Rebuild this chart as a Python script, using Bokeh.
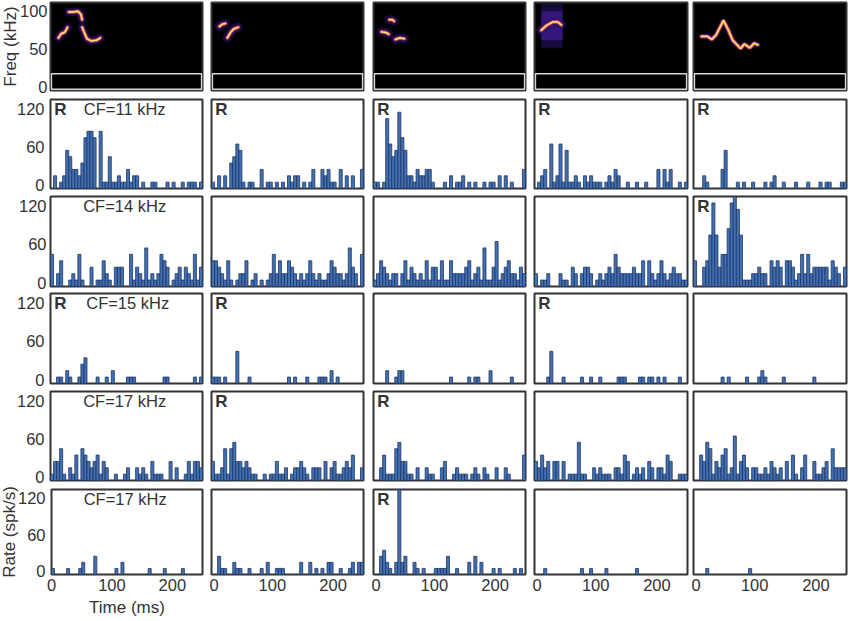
from bokeh.embed import file_html
from bokeh.resources import INLINE
from bokeh.plotting import figure
from bokeh.layouts import column, row
from bokeh.models import FixedTicker, Label, LinearAxis, Range1d

# spikes in each 5 ms bin, 0-250 ms; one spike in a bin is 10 spk/s
BIN_MS = 5
SPK_TO_RATE = 10

r1c0 = [0,2,0,1,2,6,5,3,3,2, 4,8,9,9,8,0,9,1,1,5, 1,1,2,1,1,3,1,2,2,0, 1,0,0,1,1,0,0,0,1,0, 1,0,0,1,0,1,1,1,0,1]
r1c1 = [1,0,2,0,2,0,4,5,7,6, 1,0,1,1,0,0,3,0,1,1, 0,1,0,1,0,2,1,2,2,0, 1,0,1,3,0,0,3,2,3,1, 1,0,3,0,2,0,2,0,0,3]
r1c2 = [1,1,0,1,11,7,5,6,12,8, 6,2,2,1,3,2,2,3,3,1, 0,0,0,1,0,2,0,1,1,2, 0,1,0,1,0,0,1,0,1,1, 0,2,0,2,0,1,0,0,0,3]
r1c3 = [0,1,2,3,0,7,1,2,7,1, 6,1,1,2,1,0,2,1,2,1, 1,1,0,1,2,1,3,2,0,0, 1,0,0,1,0,0,1,0,0,0, 3,0,3,1,3,0,0,1,0,1]
r1c4 = [0,0,0,2,1,0,0,0,0,3, 6,0,0,0,1,0,1,0,0,1, 0,0,0,1,0,1,2,0,0,1, 0,0,0,1,0,0,0,1,0,0, 0,1,0,1,1,0,0,0,1,1]

r2c0 = [5,0,2,4,0,0,1,2,1,5, 1,0,0,3,0,1,1,4,2,1, 0,3,3,3,0,0,5,1,3,2, 1,6,1,2,1,2,5,4,3,0, 1,2,3,1,3,2,1,5,1,3]
r2c1 = [4,4,3,2,1,4,1,0,1,2, 2,4,0,1,2,0,1,0,1,2, 5,2,4,2,2,4,3,2,1,2, 1,2,4,2,1,2,1,1,2,4, 3,2,2,1,2,6,3,2,0,5]
r2c2 = [1,2,4,3,2,1,2,2,0,2, 4,1,3,2,1,2,1,4,1,3, 3,1,4,1,1,4,2,2,2,2, 3,4,1,2,3,1,6,1,1,3, 7,1,2,3,4,2,2,1,3,2]
r2c3 = [2,0,1,1,2,0,0,0,2,1, 1,0,3,2,0,2,3,3,2,0, 1,2,1,2,3,2,5,3,2,2, 2,2,3,2,2,4,0,4,2,1, 2,4,2,1,2,3,2,2,1,1]
r2c4 = [4,0,0,3,4,8,13,8,3,5, 5,9,13,14,12,8,1,1,1,2, 2,3,2,2,0,4,3,4,3,0, 4,4,3,1,2,5,2,5,2,3, 3,3,3,3,1,4,3,2,0,3]

r3c0 = [0,0,1,1,0,2,1,0,0,1, 3,4,0,0,0,1,0,0,1,0, 2,0,0,0,0,1,1,1,0,0, 0,0,0,0,0,0,0,1,1,0, 0,0,0,0,0,0,0,1,0,1]
r3c1 = [1,1,1,0,1,0,0,0,5,0, 0,0,1,0,0,0,0,0,0,0, 0,0,0,0,0,1,0,1,0,0, 0,1,0,0,0,1,1,1,0,2, 0,1,0,0,0,0,0,0,0,0]
r3c2 = [0,0,0,0,2,0,0,1,2,2, 0,0,0,0,0,0,0,0,0,0, 0,0,0,0,0,1,0,0,0,0, 0,1,0,1,1,0,0,0,2,0, 0,0,0,0,0,1,0,0,0,0]
r3c3 = [0,0,0,0,1,5,0,0,0,1, 0,0,0,0,0,1,0,0,1,0, 0,1,0,0,0,0,0,1,1,1, 0,0,0,0,1,1,0,1,1,0, 1,0,1,0,0,0,0,1,0,0]
r3c4 = [0,0,0,0,0,0,0,0,0,1, 0,1,0,0,0,0,0,1,0,0, 0,1,2,1,0,0,0,0,0,1, 0,0,0,0,0,0,0,0,0,1, 0,0,0,0,0,0,0,0,0,0]

r4c0 = [1,3,3,5,1,0,2,1,4,0, 5,4,3,2,3,4,1,3,2,0, 0,1,0,0,1,2,0,0,2,1, 2,1,0,3,1,1,1,0,0,3, 0,2,0,0,1,3,1,3,3,2]
r4c1 = [3,1,1,2,5,1,5,6,3,3, 2,3,2,1,1,0,0,1,0,1, 1,3,1,1,2,0,1,2,2,3, 2,1,0,2,2,2,0,3,0,2, 3,1,1,2,3,2,4,0,0,2]
r4c2 = [0,0,2,4,1,1,1,5,6,3, 3,1,1,0,2,0,0,2,1,1, 0,0,2,3,0,0,1,2,1,1, 1,0,1,2,1,0,2,1,0,0, 2,0,0,2,1,0,0,0,0,4]
r4c3 = [3,2,4,2,3,0,3,3,0,3, 0,1,1,1,6,1,1,0,0,2, 1,2,1,1,1,0,2,2,1,4, 3,0,1,2,1,2,0,3,2,0, 2,2,1,4,3,0,0,1,1,1]
r4c4 = [0,0,4,3,6,5,1,3,2,4, 5,1,2,7,1,3,4,2,0,2, 2,1,1,2,1,3,2,1,2,0, 3,0,4,1,0,2,4,0,0,3, 1,1,2,3,0,5,2,2,2,2]

r5c0 = [1,0,0,0,0,1,0,0,0,1, 2,0,0,0,3,0,0,0,0,0, 0,1,0,2,0,0,0,0,0,0, 0,0,1,0,0,0,0,1,0,0, 0,0,0,1,0,0,0,0,0,0]
r5c1 = [0,0,3,1,1,0,0,2,1,1, 0,0,1,0,0,0,1,0,2,0, 0,1,1,1,0,0,0,0,0,2, 0,0,2,0,1,0,1,0,2,2, 0,0,1,0,0,1,2,0,2,2]
r5c2 = [0,0,3,4,2,1,0,2,14,2, 3,0,0,2,1,0,1,0,0,0, 1,1,1,1,3,0,0,1,0,0, 0,2,0,3,0,2,0,0,0,1, 0,1,0,0,0,0,1,0,1,0]
r5c3 = [0,0,0,1,0,0,0,0,0,0, 0,0,0,0,0,1,0,0,1,0, 0,0,0,1,0,0,0,0,0,0, 0,0,0,1,0,0,0,0,0,0, 0,0,0,0,0,0,0,0,0,0]
r5c4 = [0,0,0,0,1,0,0,0,0,0, 0,0,0,0,0,0,0,0,1,0, 0,0,0,0,0,0,0,0,0,0, 0,0,0,0,0,0,0,0,0,0, 0,0,0,0,0,0,0,0,0,0]

histograms = [
    [r1c0, r1c1, r1c2, r1c3, r1c4],
    [r2c0, r2c1, r2c2, r2c3, r2c4],
    [r3c0, r3c1, r3c2, r3c3, r3c4],
    [r4c0, r4c1, r4c2, r4c3, r4c4],
    [r5c0, r5c1, r5c2, r5c3, r5c4],
]
# which panels carry the bold "R"
r_marks = [
    [1, 1, 1, 1, 1],
    [0, 0, 0, 0, 1],
    [1, 1, 0, 1, 0],
    [0, 1, 1, 0, 0],
    [0, 0, 1, 0, 0],
]
cf_labels = ["CF=11 kHz", "CF=14 kHz", "CF=15 kHz", "CF=17 kHz", "CF=17 kHz"]
cf_x_ms = [122, 122, 127, 122, 122]

# vocalisation contours: (ms, kHz) per syllable, per stimulus
call0 = [([13, 18, 20, 24, 28], [65, 71, 71, 73, 79]),
         ([30, 37, 45, 50, 52], [99, 99, 100, 96, 89]),
         ([52, 55, 60, 67, 76, 82], [79, 73, 64, 61, 62, 65])]
call1 = [([13, 18, 23], [80, 83, 84]),
         ([26, 32, 37, 44], [65, 73, 77, 79])]
call2 = [([13, 21, 25], [73, 72, 70]),
         ([26, 31, 34], [89, 89, 87]),
         ([36, 43, 51], [63, 65, 64])]
call3 = [([11, 19, 30, 38, 44], [75, 81, 86, 86, 82])]
call4 = [([13, 23, 30, 37, 42, 49, 56, 64, 77, 83, 92, 99, 105],
          [67, 67, 63, 69, 77, 88, 77, 62, 51, 57, 52, 58, 56])]
calls = [call0, call1, call2, call3, call4]
call_glow = [8, 9, 9, 9, 5]
smear_ms = (11, 46)
smear_outer_khz = (52, 110)
smear_inner_khz = (62, 100)

FONT = "Liberation Sans"
INK = "#333333"
BAR_FILL = "#4270b4"
BAR_EDGE = "#1e3560"

frame_x = [(51, 203), (212, 364), (374, 526), (535, 688), (694, 847)]
frame_y = [(2, 90), (99, 188), (196, 286), (293, 383), (391, 480), (489, 579)]
PAD = 2
PAD_BELOW = 5
LEFT = 54
BOTTOM = 40


def base_fig(col, rw, xr, yr):
    x0, x1 = frame_x[col]
    y0, y1 = frame_y[rw]
    left = LEFT if col == 0 else PAD
    bottom = BOTTOM if rw == 5 else PAD_BELOW
    mleft = 0 if col == 0 else frame_x[col][0] - frame_x[col - 1][1] - 2 * PAD
    p = figure(width=left + (x1 - x0) + PAD, height=PAD + (y1 - y0) + bottom,
               x_range=Range1d(*xr), y_range=Range1d(*yr),
               output_backend="svg", toolbar_location=None, tools="",
               min_border_left=left, min_border_right=PAD,
               min_border_top=PAD, min_border_bottom=bottom,
               x_axis_location=None, y_axis_location=None,
               outline_line_color=INK, outline_line_width=2,
               margin=(0, 0, 0, mleft))
    p.grid.visible = False
    return p


def style_axis(ax, ticks, standoff):
    ax.ticker = FixedTicker(ticks=ticks)
    ax.axis_line_color = None
    ax.major_tick_line_color = None
    ax.minor_tick_line_color = None
    ax.major_tick_in = 0
    ax.major_tick_out = 0
    ax.major_label_standoff = standoff
    ax.major_label_text_font = FONT
    ax.major_label_text_font_size = "16.5px"
    ax.major_label_text_color = INK
    ax.axis_label_text_font = FONT
    ax.axis_label_text_font_size = "17px"
    ax.axis_label_text_font_style = "normal"
    ax.axis_label_text_color = INK


rows = []

# spectrogram row
fig_row = []
for c in range(5):
    p = base_fig(c, 0, (0, 250), (-4, 111.5))
    p.background_fill_color = "black"
    if c == 3:
        p.quad(left=[smear_ms[0]], right=[smear_ms[1]], bottom=[smear_outer_khz[0]], top=[smear_outer_khz[1]],
               fill_color="#170a3c", line_color=None)
        p.quad(left=[smear_ms[0]], right=[smear_ms[1]], bottom=[smear_inner_khz[0]], top=[smear_inner_khz[1]],
               fill_color="#33177a", line_color=None)
    p.quad(left=[1.5], right=[248.5], bottom=[-2.5], top=[18], fill_color="black",
           line_color="#d8d8d8", line_width=1.5)
    for ts, fs in calls[c]:
        p.line(ts, fs, line_color="#2b1268", line_width=call_glow[c], line_alpha=0.6, line_cap="round")
        p.line(ts, fs, line_color="#8a2a86", line_width=4, line_cap="round")
        p.line(ts, fs, line_color="#f0701e", line_width=2.6, line_cap="round")
        p.line(ts, fs, line_color="#ffeb96", line_width=1.3, line_cap="round")
    if c == 0:
        ax = LinearAxis(axis_label="Freq (kHz)")
        style_axis(ax, [0, 50, 100], 3)
        ax.axis_label_standoff = -3
        p.add_layout(ax, "left")
    fig_row.append(p)
rows.append(row(*fig_row, spacing=0))

# histogram rows
for r in range(5):
    fig_row = []
    for c in range(5):
        counts = histograms[r][c]
        p = base_fig(c, r + 1, (0, 250), (0, 140))
        ts = [i * BIN_MS + BIN_MS / 2 for i, n in enumerate(counts) if n > 0]
        rates = [n * SPK_TO_RATE for n in counts if n > 0]
        p.vbar(x=ts, top=rates, width=BIN_MS, bottom=0, fill_color=BAR_FILL,
               line_color=BAR_EDGE, line_width=0.8)
        if r_marks[r][c]:
            p.add_layout(Label(x=6, y=124, text="R", text_font=FONT, text_font_size="17px",
                               text_font_style="bold", text_color=INK, text_baseline="middle"))
        if c == 0:
            p.add_layout(Label(x=cf_x_ms[r], y=125, text=cf_labels[r], text_font=FONT,
                               text_font_size="16.5px", text_color=INK,
                               text_align="center", text_baseline="middle"))
            # tick labels sit about 3.5 px above their value in the original
            p.extra_y_ranges = {"lab": Range1d(-5.5, 134.5)}
            ax = LinearAxis(y_range_name="lab")
            style_axis(ax, [0, 60, 120], 4 if r == 1 else 6)
            if r == 4:
                ax.axis_label = "Rate (spk/s)"
                ax.axis_label_standoff = -4
            p.add_layout(ax, "left")
        if r == 4:
            ax = LinearAxis()
            style_axis(ax, [0, 100, 200], 4)
            if c == 0:
                ax.axis_label = "Time (ms)"
                ax.axis_label_standoff = 4
            p.add_layout(ax, "below")
        fig_row.append(p)
    gap = frame_y[r + 1][0] - frame_y[r][1] - PAD - PAD_BELOW
    rows.append(row(*fig_row, spacing=0, margin=(gap, 0, 0, 0)))

root = column(*rows, spacing=0, margin=(0, 0, -8, -4))
open("out.html", "w").write(file_html(root, INLINE))
